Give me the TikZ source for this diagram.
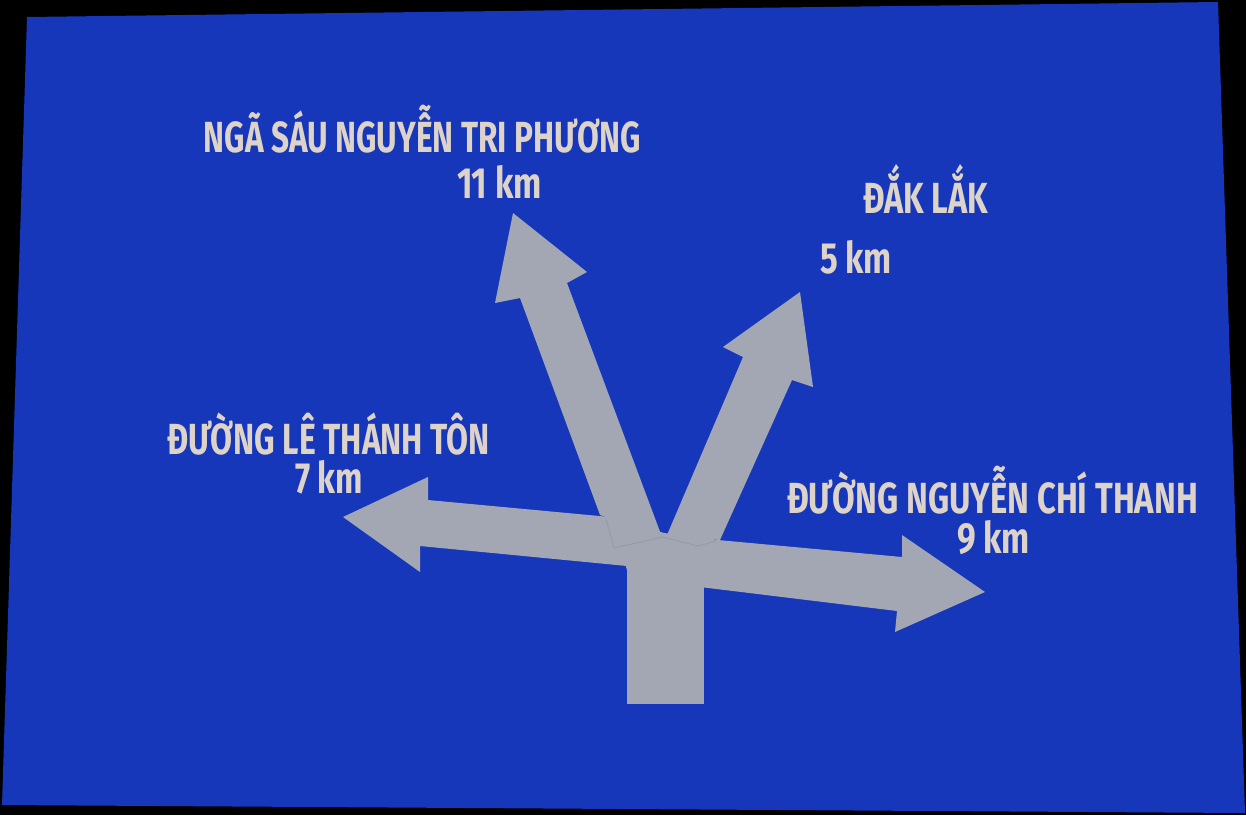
\documentclass[tikz,border=0pt]{standalone}
\usepackage{fontspec}
\usepackage{graphicx}
\newfontfamily\signfont{Fira Sans}
\definecolor{signblue}{HTML}{1637BA}
\definecolor{arrowgray}{HTML}{A3A6B3}
\definecolor{signtext}{HTML}{DDD3C9}
\newcommand\fitw[2]{\resizebox{\dimexpr 0.02cm*#1\relax}{\height}{#2}}
\begin{document}
\begin{tikzpicture}[x=0.02cm,y=-0.02cm,
  arrowfill/.style={fill=arrowgray},
  seam/.style={draw=arrowgray!88!black,line width=0.5pt,opacity=0.6},
  label/.style={text=signtext,font=\signfont\bfseries\fontsize{24.8}{30}\selectfont,inner sep=0pt,anchor=base}]
\useasboundingbox (0,0) rectangle (1246,815);
\fill[black] (0,0) rectangle (1246,815);
\fill[signblue] (27,17) -- (1218,2) -- (1245,813) -- (2,805) -- cycle;
% arrows
\fill[arrowfill] (513,213) -- (587,272) -- (567,283) -- (662,537) -- (600,515) -- (520,298) -- (495,303) -- cycle;
\fill[arrowfill] (800,292) -- (813,387) -- (792,380) -- (720,540) -- (667,535) -- (743,357) -- (723,347) -- cycle;
\fill[arrowfill] (343,517) -- (428,477) -- (428,500) -- (610,517) -- (627,566) -- (420,546) -- (420,572) -- cycle;
\fill[arrowfill] (985,592) -- (902,535) -- (902,557) -- (718,540) -- (700,587) -- (897,611) -- (895,632) -- cycle;
\fill[arrowfill] (600,513) -- (664,533) -- (720,540) -- (700,587) -- (627,570) -- (610,518) -- cycle;
\fill[arrowfill] (627,545) -- (704,545) -- (704,704) -- (627,704) -- cycle;
\path[seam] (606,519) -- (614,548) -- (663,537) -- (698,546) -- (716,541);
% texts
\node[label] (nw1) at (422.5,152) {\fitw{437}{NGÃ SÁU NGUYỄN TRI PHƯƠNG}};
\node[label] (nw2) at (499.5,198) {\fitw{85}{11 km}};
\node[label] (ne1) at (925.5,213) {\fitw{125}{ĐẮK LẮK}};
\node[label] (ne2) at (856,273) {\fitw{72}{5 km}};
\node[label] (w1) at (328.5,454) {\fitw{323}{ĐƯỜNG LÊ THÁNH TÔN}};
\node[label] (w2) at (329,493) {\fitw{68}{7 km}};
\node[label] (e1) at (992.5,513) {\fitw{411}{ĐƯỜNG NGUYỄN CHÍ THANH}};
\node[label] (e2) at (993.5,553) {\fitw{73}{9 km}};
\end{tikzpicture}
\end{document}
